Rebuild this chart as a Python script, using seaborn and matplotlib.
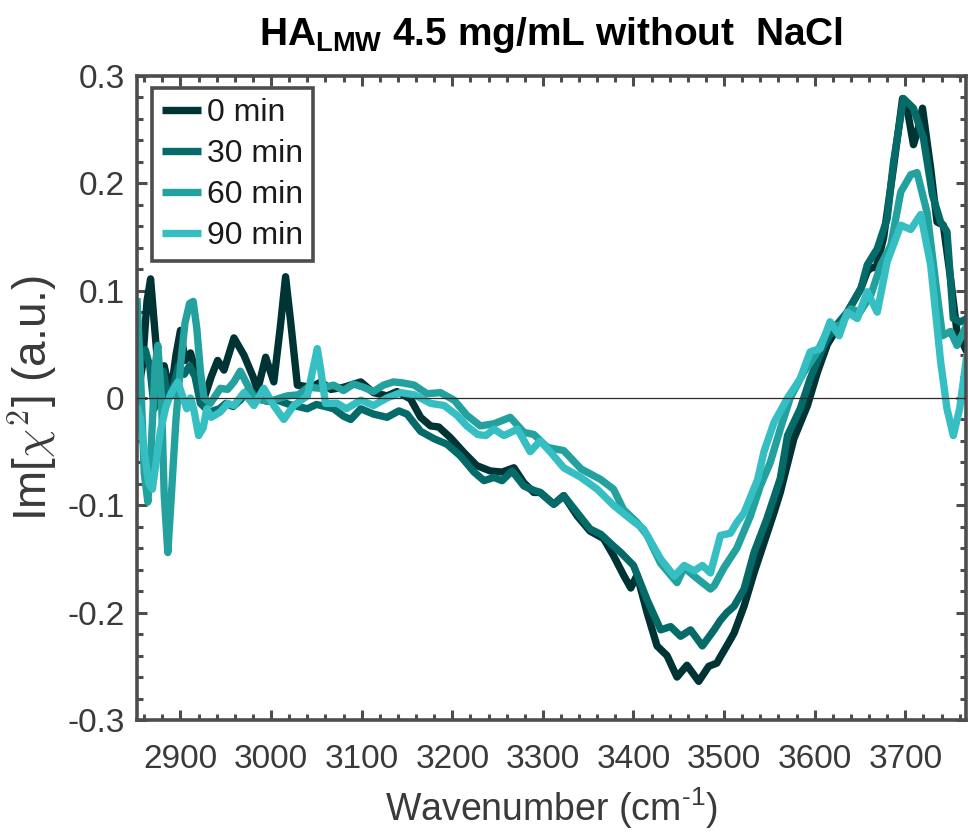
import numpy as np
import pandas as pd
import matplotlib
matplotlib.use("Agg")
import matplotlib.pyplot as plt
from matplotlib import font_manager
from matplotlib.ticker import MultipleLocator, FixedLocator
import seaborn as sns

# ---------------- data ----------------
labels = ["0 min", "30 min", "60 min", "90 min"]
colors = ["#003434", "#056b68", "#22a19e", "#35bfc2"]

wn_0 = [2852, 2858, 2863, 2867, 2871, 2876, 2882, 2889, 2895, 2900, 2905, 2911, 2917, 2927,
        2934, 2941, 2948, 2959, 2970, 2980, 2985, 2994, 3003, 3010, 3016, 3022, 3029, 3044,
        3055, 3066, 3080, 3099, 3113, 3128, 3139, 3154, 3165, 3176, 3185, 3198, 3213, 3227,
        3242, 3255, 3268, 3279, 3290, 3297, 3312, 3323, 3338, 3352, 3367, 3378, 3389, 3397,
        3404, 3415, 3426, 3437, 3448, 3459, 3472, 3483, 3492, 3496, 3505, 3511, 3522, 3533,
        3544, 3555, 3562, 3577, 3592, 3603, 3614, 3625, 3636, 3651, 3658, 3662, 3668, 3676,
        3687, 3697, 3703, 3709, 3714, 3719, 3728, 3735, 3742, 3750, 3757, 3768]
val_0 = [0.000, 0.030, 0.090, 0.111, 0.070, 0.020, 0.030, 0.002, 0.040, 0.063, 0.035, 0.042,
         0.025, 0.002, 0.020, 0.035, 0.026, 0.056, 0.040, 0.020, 0.007, 0.038, 0.015, 0.065,
         0.113, 0.068, 0.012, 0.010, 0.015, 0.008, 0.010, 0.015, 0.005, 0.002, 0.006, -0.001,
         -0.018, -0.026, -0.027, -0.037, -0.051, -0.063, -0.068, -0.069, -0.065, -0.079,
         -0.088, -0.088, -0.099, -0.091, -0.110, -0.124, -0.131, -0.147, -0.165, -0.177,
         -0.165, -0.200, -0.231, -0.240, -0.260, -0.249, -0.264, -0.250, -0.247, -0.241,
         -0.228, -0.219, -0.194, -0.163, -0.135, -0.107, -0.088, -0.038, -0.007, 0.024,
         0.050, 0.065, 0.080, 0.102, 0.118, 0.121, 0.122, 0.149, 0.215, 0.279, 0.265, 0.236,
         0.250, 0.270, 0.214, 0.164, 0.161, 0.111, 0.062, 0.043]

wn_30 = [2852, 2856, 2861, 2866, 2871, 2876, 2881, 2886, 2892, 2898, 2904, 2910, 2916, 2922,
         2932, 2943, 2950, 2958, 2966, 2975, 2985, 2995, 3007, 3020, 3030, 3040, 3050, 3060,
         3069, 3080, 3088, 3099, 3113, 3128, 3141, 3150, 3165, 3180, 3194, 3209, 3224, 3235,
         3246, 3255, 3266, 3279, 3290, 3297, 3312, 3323, 3338, 3352, 3364, 3378, 3386, 3400,
         3415, 3430, 3441, 3452, 3463, 3476, 3489, 3496, 3503, 3511, 3522, 3533, 3547, 3562,
         3570, 3584, 3595, 3610, 3621, 3636, 3651, 3658, 3669, 3680, 3687, 3698, 3709, 3720,
         3730, 3739, 3746, 3753, 3761, 3768]
val_30 = [0.020, 0.040, 0.045, 0.030, -0.010, 0.020, 0.025, 0.000, 0.010, 0.030, 0.022, 0.030,
          0.020, -0.005, -0.013, -0.010, -0.005, -0.008, -0.002, 0.008, 0.000, -0.003, -0.002,
          -0.006, -0.008, -0.010, -0.006, -0.008, -0.010, -0.017, -0.020, -0.010, -0.015,
          -0.018, -0.012, -0.015, -0.031, -0.038, -0.043, -0.054, -0.069, -0.077, -0.074,
          -0.077, -0.068, -0.082, -0.086, -0.088, -0.099, -0.091, -0.107, -0.122, -0.127,
          -0.138, -0.144, -0.156, -0.188, -0.216, -0.213, -0.222, -0.216, -0.231, -0.216,
          -0.207, -0.200, -0.194, -0.178, -0.144, -0.113, -0.075, -0.035, -0.010, 0.018,
          0.049, 0.065, 0.080, 0.102, 0.124, 0.139, 0.167, 0.220, 0.279, 0.270, 0.242, 0.189,
          0.164, 0.155, 0.074, 0.071, 0.074]

wn_60 = [2852, 2856, 2860, 2864, 2868, 2872, 2875, 2879, 2882, 2886, 2890, 2895, 2900, 2905,
         2910, 2914, 2918, 2922, 2926, 2933, 2944, 2952, 2959, 2966, 2974, 2981, 2990, 3000,
         3010, 3018, 3030, 3041, 3055, 3069, 3080, 3091, 3102, 3113, 3124, 3135, 3146, 3158,
         3172, 3187, 3202, 3216, 3231, 3246, 3264, 3279, 3290, 3305, 3323, 3342, 3364, 3378,
         3389, 3404, 3415, 3430, 3448, 3456, 3467, 3485, 3489, 3500, 3514, 3529, 3540, 3551,
         3562, 3573, 3588, 3603, 3617, 3628, 3640, 3650, 3662, 3673, 3684, 3695, 3706, 3713,
         3724, 3733, 3741, 3750, 3757, 3768]
val_60 = [0.093, 0.020, -0.070, -0.097, -0.040, 0.030, 0.049, 0.000, -0.090, -0.144, -0.090,
          -0.020, 0.030, 0.070, 0.088, 0.090, 0.065, 0.025, 0.000, -0.005, 0.009, 0.008, 0.015,
          0.025, 0.012, 0.000, -0.002, -0.003, 0.000, 0.002, 0.003, 0.010, 0.009, 0.012, 0.007,
          0.013, 0.010, 0.006, 0.012, 0.015, 0.014, 0.012, 0.004, 0.005, -0.002, -0.016,
          -0.026, -0.024, -0.018, -0.032, -0.034, -0.046, -0.049, -0.066, -0.076, -0.085,
          -0.104, -0.116, -0.128, -0.154, -0.172, -0.158, -0.166, -0.178, -0.175, -0.158,
          -0.140, -0.110, -0.082, -0.060, -0.029, 0.000, 0.024, 0.043, 0.068, 0.067, 0.083,
          0.080, 0.096, 0.124, 0.142, 0.192, 0.208, 0.210, 0.173, 0.111, 0.058, 0.062, 0.049,
          0.068]

wn_90 = [2852, 2856, 2860, 2865, 2869, 2873, 2878, 2884, 2890, 2897, 2903, 2907, 2911, 2915,
         2920, 2925, 2929, 2934, 2944, 2952, 2959, 2970, 2981, 2992, 3003, 3014, 3025, 3040,
         3047, 3051, 3055, 3060, 3073, 3083, 3099, 3113, 3128, 3143, 3158, 3176, 3191, 3205,
         3216, 3228, 3237, 3246, 3257, 3272, 3286, 3297, 3308, 3323, 3342, 3360, 3378, 3397,
         3411, 3430, 3445, 3456, 3467, 3476, 3485, 3496, 3507, 3514, 3522, 3537, 3544, 3555,
         3570, 3584, 3595, 3606, 3617, 3627, 3636, 3647, 3658, 3669, 3680, 3695, 3706, 3717,
         3728, 3739, 3746, 3753, 3760, 3768]
val_90 = [-0.007, -0.020, -0.050, -0.080, -0.085, -0.060, -0.030, -0.008, 0.005, 0.015, 0.000,
          -0.010, 0.000, -0.012, -0.035, -0.028, -0.010, -0.018, -0.013, -0.005, -0.007, 0.005,
          -0.007, 0.009, -0.007, -0.020, -0.007, 0.002, 0.030, 0.046, 0.025, -0.005, -0.005,
          -0.010, -0.002, -0.007, 0.000, 0.005, 0.003, -0.005, -0.007, -0.016, -0.026, -0.034,
          -0.035, -0.029, -0.035, -0.029, -0.050, -0.040, -0.050, -0.065, -0.074, -0.085,
          -0.100, -0.113, -0.122, -0.150, -0.166, -0.156, -0.161, -0.156, -0.163, -0.128,
          -0.126, -0.116, -0.107, -0.076, -0.050, -0.023, 0.000, 0.018, 0.043, 0.046, 0.071,
          0.058, 0.080, 0.074, 0.099, 0.080, 0.127, 0.161, 0.157, 0.171, 0.124, 0.034, -0.010,
          -0.035, -0.010, 0.040]

x_ticks = [2900, 3000, 3100, 3200, 3300, 3400, 3500, 3600, 3700]
y_ticks = [-0.3, -0.2, -0.1, 0.0, 0.1, 0.2, 0.3]
y_tick_labels = ["-0.3", "-0.2", "-0.1", "0", "0.1", "0.2", "0.3"]

# ---------------- table ----------------
frames = []
for lab, wn, val in zip(labels, [wn_0, wn_30, wn_60, wn_90], [val_0, val_30, val_60, val_90]):
    frames.append(pd.DataFrame({"wn": wn, "val": val, "series": lab}))
df = pd.concat(frames, ignore_index=True)

# ---------------- style ----------------
sns.set_theme(style="ticks")
names = {f.name for f in font_manager.fontManager.ttflist}
narrow = "Liberation Sans Narrow" if "Liberation Sans Narrow" in names else "Liberation Sans"
plt.rcParams["font.family"] = [narrow, "DejaVu Sans"]
plt.rcParams["axes.unicode_minus"] = False
plt.rcParams["mathtext.fontset"] = "custom"
plt.rcParams["mathtext.rm"] = "Liberation Sans"
plt.rcParams["mathtext.bf"] = "Liberation Sans:bold"
plt.rcParams["mathtext.it"] = "Liberation Sans:italic"

gray = "#4d4d4d"
txt = "#3a3a3a"

fig = plt.figure(figsize=(9.68, 8.4), dpi=100)
ax = fig.add_axes([137 / 968, 120 / 840, 829 / 968, 644 / 840])

sns.lineplot(data=df, x="wn", y="val", hue="series", hue_order=labels,
             palette=dict(zip(labels, colors)), estimator=None, sort=False,
             linewidth=5.3, legend=False, ax=ax)
for ln in ax.lines:
    ln.set_solid_joinstyle("round")
    ln.set_solid_capstyle("butt")

ax.axhline(0, color="#2a2a2a", lw=0.9, zorder=5)

ax.set_xlim(2852, 3767)
ax.set_ylim(-0.3, 0.3)
ax.xaxis.set_major_locator(FixedLocator(x_ticks))
ax.xaxis.set_minor_locator(MultipleLocator(20))
ax.yaxis.set_major_locator(FixedLocator(y_ticks))
ax.set_yticklabels(y_tick_labels)
ax.yaxis.set_minor_locator(MultipleLocator(0.02))

for s in ax.spines.values():
    s.set_visible(True)
    s.set_color(gray)
    s.set_linewidth(2.6)

ax.tick_params(which="both", direction="in", top=True, right=True, color=gray,
               width=2.2, labelcolor=txt)
ax.tick_params(which="major", length=7, labelsize=24)
ax.tick_params(which="minor", length=4)
ax.tick_params(axis="x", which="major", pad=17)
ax.tick_params(axis="y", which="major", pad=9)

ax.set_xlabel("Wavenumber (cm$^{\u2010\\mathrm{1}}$)", fontsize=27, color=txt, labelpad=8)
yl = ax.set_ylabel(r"Im[$\chi^2$] (a.u.)", fontsize=33, color=txt, labelpad=6)
yl.set_math_fontfamily("cm")
ax.set_title(r"HA$_{\mathbf{LMW}}$ 4.5 mg/mL without  NaCl", fontsize=28,
             fontweight="bold", color="black", pad=22, family=["Liberation Sans"])

handles = ax.lines[:4]
leg = ax.legend(handles, labels, loc="upper left", bbox_to_anchor=(0.018, 0.981),
                borderaxespad=0, fontsize=23, frameon=True, fancybox=False,
                handlelength=1.25, handletextpad=0.18, borderpad=0.3,
                labelspacing=0.35)
leg.get_frame().set_edgecolor(gray)
leg.get_frame().set_linewidth(2.6)
leg.get_frame().set_alpha(1)
for t in leg.get_texts():
    t.set_color("#1a1a1a")

fig.savefig("out.png", dpi=100)
